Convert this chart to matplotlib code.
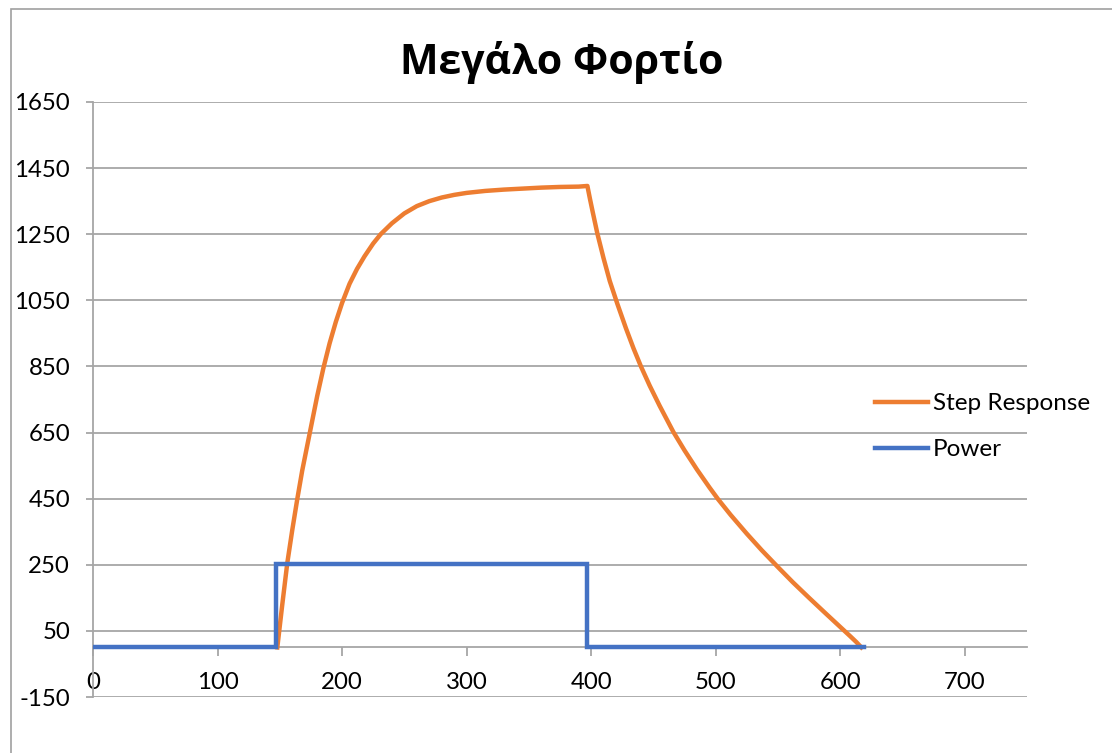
import matplotlib
matplotlib.use("Agg")
import matplotlib.pyplot as plt
from matplotlib.patches import Rectangle
from matplotlib.lines import Line2D

# ---- data ----
title = "Μεγάλο Φορτίο"
series_names = ["Step Response", "Power"]

step_t = [148, 152, 156, 160, 164, 168, 172, 176, 180, 185, 190, 195, 200, 206,
          212, 218, 225, 231, 240, 250, 260, 270, 280, 290, 300, 315, 330, 345,
          360, 375, 390, 397,
          399, 401, 405, 410, 415, 421, 428, 434, 440, 447, 455, 466, 475, 485,
          495, 502, 512, 525, 537, 550, 562, 575, 588, 600, 608, 613, 617]
step_v = [0, 130, 255, 355, 448, 535, 610, 685, 760, 845, 920, 985, 1042, 1100,
          1145, 1183, 1222, 1250, 1283, 1313, 1335, 1350, 1361, 1369, 1375, 1381,
          1385, 1388, 1391, 1393, 1394, 1396,
          1358, 1322, 1252, 1177, 1108, 1040, 965, 905, 850, 792, 731, 652, 596,
          538, 484, 448, 401, 344, 294, 243, 197, 150, 104, 62, 34, 16, 0]

power_t = [0, 147, 147, 397, 397, 619]
power_v = [0, 0, 253, 253, 0, 0]

x_ticks = [0, 100, 200, 300, 400, 500, 600, 700]
y_ticks = [-150, 50, 250, 450, 650, 850, 1050, 1250, 1450, 1650]

ORANGE = "#ED7D31"
BLUE = "#4472C4"
GRID = "#a6a6a6"

plt.rcParams['font.family'] = ['Lato', 'Open Sans', 'DejaVu Sans']
plt.rcParams['axes.unicode_minus'] = False

W, H = 1112, 753
fig = plt.figure(figsize=(W / 100, H / 100), dpi=100)
fig.patch.set_facecolor("white")

# chart area border
fig.patches.append(Rectangle((11 / W, -0.1), 1.2, 1 - 9 / H + 0.1,
                             transform=fig.transFigure, fill=False,
                             edgecolor="#a0a0a0", linewidth=1.2))

ax = fig.add_axes([93 / W, 1 - 697 / H, (1027 - 93) / W, (697 - 102) / H])
ax.set_xlim(0, 750)
ax.set_ylim(-150, 1650)

ax.plot(step_t, step_v, color=ORANGE, lw=3.2, solid_joinstyle="round", zorder=3,
        label=series_names[0])
ax.plot(power_t, power_v, color=BLUE, lw=3.2, solid_joinstyle="miter", zorder=4,
        label=series_names[1])

ax.set_yticks(y_ticks)
ax.set_xticks(x_ticks)
ax.grid(axis="y", color=GRID, lw=1.3)
ax.set_axisbelow(True)

for s in ["top", "right"]:
    ax.spines[s].set_visible(False)
ax.spines["left"].set_color(GRID)
ax.spines["left"].set_linewidth(1.3)
ax.spines["bottom"].set_position(("data", 0))
ax.spines["bottom"].set_color(GRID)
ax.spines["bottom"].set_linewidth(1.3)

ax.tick_params(axis="y", direction="out", length=5, width=1.3, color=GRID,
               labelsize=17.3, pad=11.5, labelcolor="black")
ax.tick_params(axis="x", direction="out", length=6.5, width=1.3, color=GRID,
               labelsize=17.3, pad=11, labelcolor="black")

fig.text(562 / W, 1 - 63 / H, title, ha="center", va="center",
         fontsize=29.5, fontweight="bold", family=['Open Sans', 'DejaVu Sans'])

handles = [Line2D([], [], color=ORANGE, lw=3.2), Line2D([], [], color=BLUE, lw=3.2)]
leg = fig.legend(handles, series_names, loc="upper left",
                 bbox_to_anchor=(875 / W, 1 - 393 / H), frameon=False,
                 fontsize=17.5, handlelength=2.18, handletextpad=0.2,
                 labelspacing=1.04, borderpad=0, borderaxespad=0)

fig.savefig("out.png", dpi=100)
